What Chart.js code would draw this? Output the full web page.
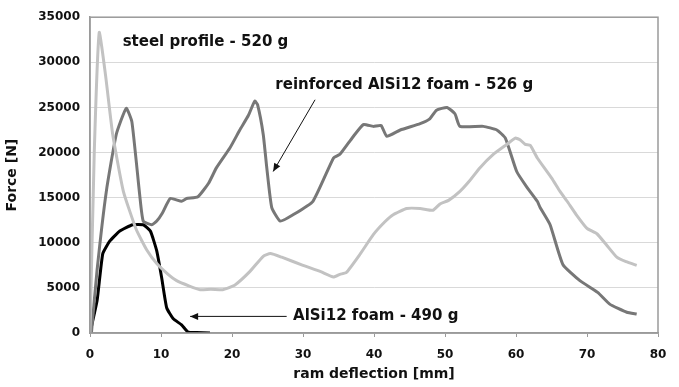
<!DOCTYPE html>
<html>
<head>
<meta charset="utf-8">
<script src="https://cdn.jsdelivr.net/npm/chart.js@4.4.0/dist/chart.umd.min.js"></script>
<style>
  html, body { margin: 0; padding: 0; background: #fff; }
  #wrap { width: 679px; height: 387px; }
</style>
</head>
<body>
<div id="wrap"><canvas id="forceChart"></canvas></div>
<script>
// steel profile - 520 g (light gray)
const steelX = [0, 0.6, 1.3, 2.2, 3.2, 4.7, 6.5, 8, 9.4, 11, 12.2, 14, 15.5, 17, 18.7, 19.5, 20.4, 22.5, 24.4, 25.4, 27, 30, 32.5, 34.3, 35.2, 36.1, 38, 39.9, 41.5, 42.7, 44.6, 46.5, 48.3, 49.3, 50.5, 52.1, 53.5, 54.9, 56.8, 58.7, 59.9, 60.6, 61.3, 62, 63, 65, 66.2, 67.2, 68.5, 70, 71.4, 72.8, 74.2, 75.5, 77];
const steelY = [0, 20000, 33300, 28500, 22000, 15700, 11500, 9200, 7700, 6500, 5800, 5200, 4800, 4850, 4800, 5000, 5300, 6800, 8500, 8800, 8400, 7500, 6800, 6200, 6500, 6700, 8700, 10900, 12300, 13100, 13800, 13800, 13600, 14300, 14700, 15700, 16900, 18300, 19800, 20900, 21600, 21400, 20900, 20800, 19400, 17200, 15700, 14600, 13100, 11600, 11000, 9700, 8400, 7900, 7500];

// reinforced AlSi12 foam - 526 g (dark gray)
const reinfX = [0.2, 1, 2.3, 3.7, 5.1, 5.9, 7, 7.5, 8.7, 9.4, 10.2, 11.3, 12.9, 13.6, 15.2, 16.7, 17.8, 19.7, 21.1, 22.3, 23.2, 23.6, 24.4, 24.9, 25.6, 26.8, 28.6, 31.4, 34.3, 35.2, 37, 38.5, 39.9, 41, 41.8, 43.7, 46.5, 47.8, 48.8, 50.3, 51.4, 52.1, 55.4, 57.3, 58.5, 60.1, 61.5, 63, 63.4, 64.8, 66.6, 69, 71.5, 73.2, 75.6, 77];
const reinfY = [0, 7000, 15700, 22000, 24900, 23400, 15300, 12400, 12000, 12400, 13300, 14900, 14600, 14900, 15100, 16600, 18300, 20500, 22500, 24100, 25700, 25300, 22000, 18300, 13900, 12400, 13100, 14600, 19400, 19800, 21700, 23100, 22900, 23000, 21800, 22500, 23200, 23700, 24700, 25000, 24300, 22900, 22900, 22500, 21600, 17900, 16200, 14600, 13900, 12000, 7600, 5800, 4500, 3200, 2300, 2100];

// AlSi12 foam - 490 g (black)
const foamX = [0, 1, 1.8, 2.8, 4.2, 6, 7.5, 8.5, 9.4, 10.1, 10.8, 11.7, 12.9, 13.8, 15, 16.9];
const foamY = [0, 3600, 8800, 10200, 11300, 12000, 12000, 11300, 9100, 6100, 2800, 1600, 900, 100, 50, 0];

const xTicks = [0, 10, 20, 30, 40, 50, 60, 70, 80];
const yTicks = [0, 5000, 10000, 15000, 20000, 25000, 30000, 35000];

function toPoints(xs, ys) {
  return xs.map((x, i) => ({ x: x, y: ys[i] }));
}

// labels and arrows, in data units
const notes = [
  { text: "steel profile - 520 g", x: 4.6, y: 32250 },
  { text: "reinforced AlSi12 foam - 526 g", x: 26.1, y: 27500 },
  { text: "AlSi12 foam - 490 g", x: 28.6, y: 1840 }
];
const arrows = [
  { x1: 31.7, y1: 25850, x2: 25.8, y2: 17900 },
  { x1: 27.7, y1: 1840, x2: 14.1, y2: 1840 }
];

const FONT = "'DejaVu Sans', Verdana, sans-serif";

const notesPlugin = {
  id: "notes",
  afterDatasetsDraw(chart) {
    const ctx = chart.ctx;
    const xs = chart.scales.x;
    const ys = chart.scales.y;
    const a = chart.chartArea;
    ctx.save();
    // box round the plot
    ctx.strokeStyle = "#9a9a9a";
    ctx.lineWidth = 1.5;
    ctx.strokeRect(a.left, a.top, a.right - a.left, a.bottom - a.top);

    ctx.fillStyle = "#111";
    ctx.font = "bold 15px " + FONT;
    ctx.textBaseline = "middle";
    ctx.textAlign = "left";
    for (const n of notes) {
      ctx.fillText(n.text, xs.getPixelForValue(n.x), ys.getPixelForValue(n.y));
    }

    ctx.strokeStyle = "#111";
    ctx.fillStyle = "#111";
    ctx.lineWidth = 1;
    for (const ar of arrows) {
      const x1 = xs.getPixelForValue(ar.x1), y1 = ys.getPixelForValue(ar.y1);
      const x2 = xs.getPixelForValue(ar.x2), y2 = ys.getPixelForValue(ar.y2);
      ctx.beginPath();
      ctx.moveTo(x1, y1);
      ctx.lineTo(x2, y2);
      ctx.stroke();
      const ang = Math.atan2(y2 - y1, x2 - x1);
      const len = 8, half = 3.5;
      ctx.beginPath();
      ctx.moveTo(x2, y2);
      ctx.lineTo(x2 - len * Math.cos(ang) + half * Math.sin(ang), y2 - len * Math.sin(ang) - half * Math.cos(ang));
      ctx.lineTo(x2 - len * Math.cos(ang) - half * Math.sin(ang), y2 - len * Math.sin(ang) + half * Math.cos(ang));
      ctx.closePath();
      ctx.fill();
    }
    ctx.restore();
  }
};

const tickFont = { family: FONT, size: 12, weight: "bold" };
const titleFont = { family: FONT, size: 14, weight: "bold" };

const ctx = document.getElementById("forceChart").getContext("2d");
const forceChart = new Chart(ctx, {
  type: "scatter",
  data: {
    datasets: [
      {
        label: "steel profile - 520 g",
        data: toPoints(steelX, steelY),
        showLine: true,
        borderColor: "#c2c2c2",
        borderWidth: 3,
        pointRadius: 0,
        tension: 0.15
      },
      {
        label: "reinforced AlSi12 foam - 526 g",
        data: toPoints(reinfX, reinfY),
        showLine: true,
        borderColor: "#777777",
        borderWidth: 3,
        pointRadius: 0,
        tension: 0.15
      },
      {
        label: "AlSi12 foam - 490 g",
        data: toPoints(foamX, foamY),
        showLine: true,
        borderColor: "#000000",
        borderWidth: 3,
        pointRadius: 0,
        tension: 0.15
      }
    ]
  },
  options: {
    responsive: true,
    maintainAspectRatio: false,
    animation: false,
    layout: { padding: { top: 15, right: 21, left: 0, bottom: 0 } },
    plugins: {
      legend: { display: false },
      tooltip: { enabled: false }
    },
    scales: {
      x: {
        type: "linear",
        min: 0,
        max: 80,
        afterBuildTicks: (axis) => { axis.ticks = xTicks.map(v => ({ value: v })); },
        afterFit: (axis) => { axis.height = 54; },
        ticks: { color: "#111", font: tickFont, padding: 11 },
        grid: { drawOnChartArea: false, drawTicks: true, tickLength: 4, color: "#9a9a9a" },
        border: { display: true, color: "#9a9a9a", width: 1.5 },
        title: { display: true, text: "ram deflection [mm]", color: "#111", font: titleFont, padding: { top: 6 } }
      },
      y: {
        min: 0,
        max: 35000,
        afterBuildTicks: (axis) => { axis.ticks = yTicks.map(v => ({ value: v })); },
        afterFit: (axis) => { axis.width = 90; },
        ticks: { color: "#111", font: tickFont, padding: 10, callback: (v) => String(v) },
        grid: { color: "#d9d9d9", lineWidth: 1, drawTicks: false },
        border: { display: true, color: "#9a9a9a", width: 1.5 },
        title: { display: true, text: "Force [N]", color: "#111", font: titleFont, padding: { bottom: 4 } }
      }
    }
  },
  plugins: [notesPlugin]
});
</script>
</body>
</html>
